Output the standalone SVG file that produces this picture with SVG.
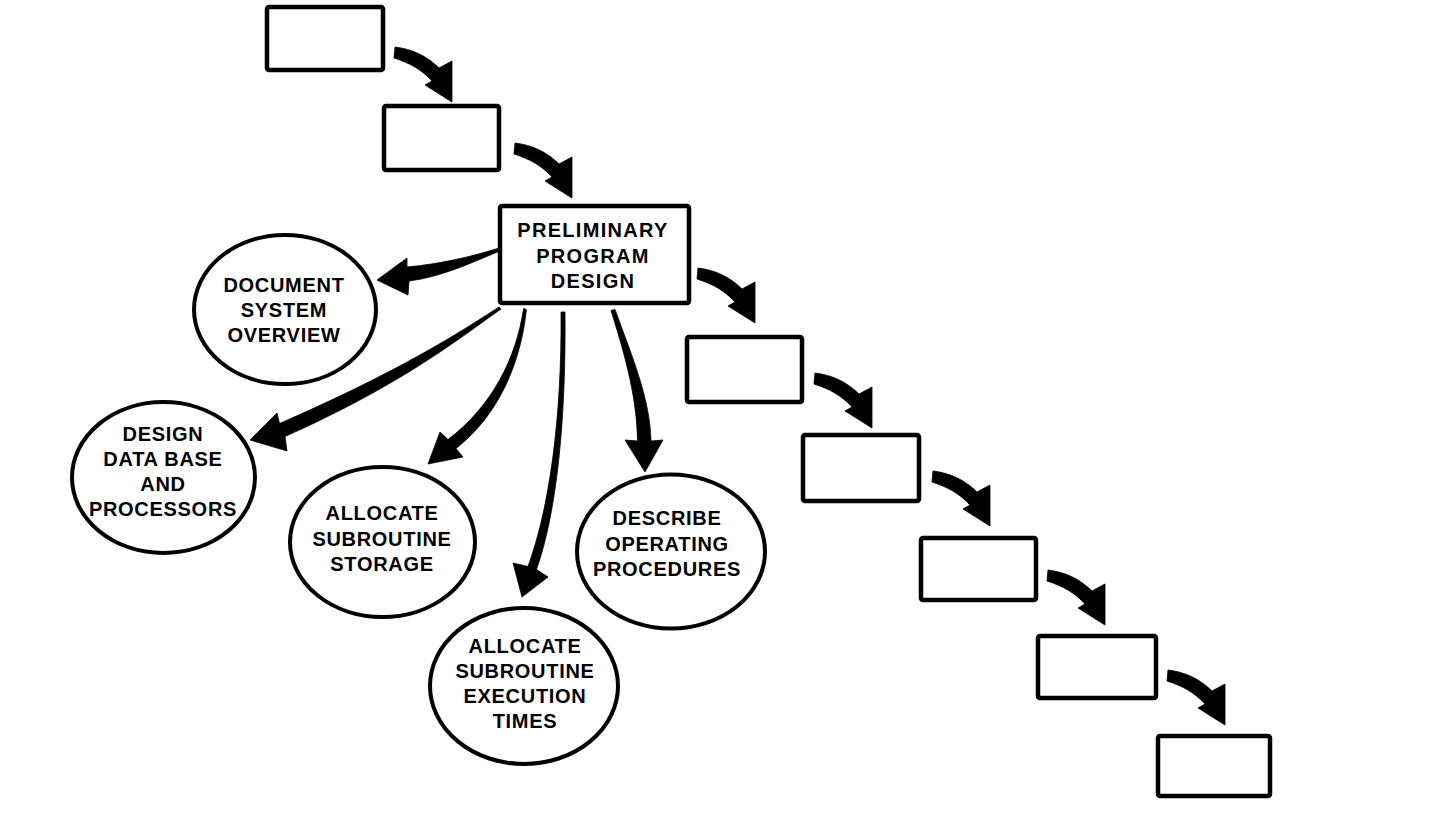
<svg xmlns="http://www.w3.org/2000/svg" xmlns:xlink="http://www.w3.org/1999/xlink" width="1444" height="833" viewBox="0 0 1444 833">
<style>
.box{fill:#fff;stroke:#000;stroke-width:4.5;stroke-linejoin:round}
.ell{fill:#fff;stroke:#000;stroke-width:4}
.lbl{font-family:"Liberation Sans",Arial,Helvetica,sans-serif;font-weight:bold;font-size:20px;letter-spacing:0.7px;text-anchor:middle;fill:#000}
.wide{letter-spacing:1.3px}
.arr{fill:#000;stroke:#000;stroke-width:0.8;stroke-linejoin:round}
</style>
<defs>
<path id="step" d="M0,0 C17,2 32,9 44,21 L57,14 L57,55 L30,38 L37,34 C27,23 15,16 -1,11 Z"/>
</defs>
<rect width="1444" height="833" fill="#fff"/>

<g id="box1"><rect class="box" x="267" y="7" width="116" height="63" rx="2"/></g>
<g id="box2"><rect class="box" x="384" y="106" width="115" height="64" rx="2"/></g>
<g id="preliminary-program-design">
<rect class="box" x="500" y="206" width="189" height="97" rx="2"/>
<text class="lbl wide" x="593" y="237">PRELIMINARY</text>
<text class="lbl wide" x="593" y="263">PROGRAM</text>
<text class="lbl wide" x="593" y="288">DESIGN</text>
</g>
<g id="box4"><rect class="box" x="687" y="337" width="115" height="65" rx="2"/></g>
<g id="box5"><rect class="box" x="803" y="435" width="116" height="66" rx="2"/></g>
<g id="box6"><rect class="box" x="921" y="538" width="115" height="62" rx="2"/></g>
<g id="box7"><rect class="box" x="1038" y="636" width="118" height="62" rx="2"/></g>
<g id="box8"><rect class="box" x="1158" y="736" width="112" height="60" rx="2"/></g>

<g id="document-system-overview">
<ellipse class="ell" cx="285" cy="309.5" rx="91" ry="74.5"/>
<text class="lbl" x="284" y="292">DOCUMENT</text>
<text class="lbl" x="284" y="317">SYSTEM</text>
<text class="lbl" x="284" y="342">OVERVIEW</text>
</g>
<g id="design-data-base">
<ellipse class="ell" cx="163.5" cy="477.5" rx="91.5" ry="75.5"/>
<text class="lbl" x="163" y="441">DESIGN</text>
<text class="lbl" x="163" y="466">DATA BASE</text>
<text class="lbl" x="163" y="491">AND</text>
<text class="lbl" x="163" y="516">PROCESSORS</text>
</g>
<g id="allocate-storage">
<ellipse class="ell" cx="382.5" cy="542" rx="92.5" ry="75"/>
<text class="lbl" x="382" y="520">ALLOCATE</text>
<text class="lbl" x="382" y="545.5">SUBROUTINE</text>
<text class="lbl" x="382" y="571">STORAGE</text>
</g>
<g id="allocate-execution-times">
<ellipse class="ell" cx="524" cy="686" rx="94" ry="78"/>
<text class="lbl" x="525" y="653">ALLOCATE</text>
<text class="lbl" x="525" y="678">SUBROUTINE</text>
<text class="lbl" x="525" y="703">EXECUTION</text>
<text class="lbl" x="525" y="728">TIMES</text>
</g>
<g id="describe-operating-procedures">
<ellipse class="ell" cx="671" cy="551.5" rx="94" ry="77"/>
<text class="lbl" x="667" y="525">DESCRIBE</text>
<text class="lbl" x="667" y="551">OPERATING</text>
<text class="lbl" x="667" y="576">PROCEDURES</text>
</g>

<g id="connectors">
<use href="#step" xlink:href="#step" class="arr" x="395" y="47"/>
<use href="#step" xlink:href="#step" class="arr" x="515" y="143"/>
<use href="#step" xlink:href="#step" class="arr" x="698" y="268"/>
<use href="#step" xlink:href="#step" class="arr" x="815" y="373"/>
<use href="#step" xlink:href="#step" class="arr" x="933" y="471"/>
<use href="#step" xlink:href="#step" class="arr" x="1048" y="570"/>
<use href="#step" xlink:href="#step" class="arr" x="1168" y="670"/>
<path class="arr" d="M497.5,248.5 C470,257 440,264 407,267 L407,258 L377,280 L408,295 L409,281 C441,277 471,263 498.5,251.5 Z"/>
<path class="arr" d="M499,307 C459,333 398,372 279.5,423.5 L277,413 L250,440 L287,451 L285,436.5 C403,384 461,337 501,309 Z"/>
<path class="arr" d="M523.6,308.5 C516,359 492,406 448,439.5 L440,432 L428,464 L463,457 L456,448.5 C500,414 521,361 526.4,309.5 Z"/>
<path class="arr" d="M561,312 C562,420 549,509 528,566.5 L513,563 L522,597 L548,577 L536.5,569.5 C557,511 566,420 565,312 Z"/>
<path class="arr" d="M611,310.6 C627,361 637,401 637.5,441 L625,440 L645,472 L663,440 L651,441 C650,399 633,359 615,309.4 Z"/>
</g>
</svg>
